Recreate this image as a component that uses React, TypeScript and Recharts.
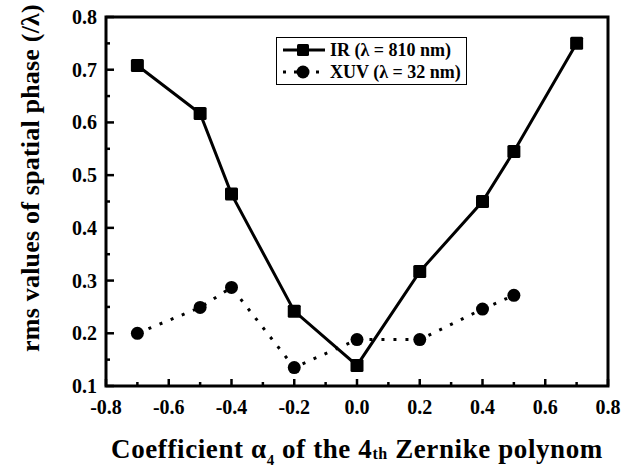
import React from 'react';
import { LineChart, Line, XAxis, YAxis, Legend, Label, ReferenceArea } from 'recharts';

const irX = [-0.7, -0.5, -0.4, -0.2, 0.0, 0.2, 0.4, 0.5, 0.7];
const irY = [0.708, 0.617, 0.464, 0.242, 0.139, 0.317, 0.45, 0.545, 0.75];

const xuvX = [-0.7, -0.5, -0.4, -0.2, 0.0, 0.2, 0.4, 0.5];
const xuvY = [0.2, 0.249, 0.287, 0.135, 0.188, 0.188, 0.246, 0.272];

const xTicks = [-0.8, -0.7, -0.6, -0.5, -0.4, -0.3, -0.2, -0.1, 0, 0.1, 0.2, 0.3, 0.4, 0.5, 0.6, 0.7, 0.8];
const xMajor = [-0.8, -0.6, -0.4, -0.2, 0, 0.2, 0.4, 0.6, 0.8];
const yTicks = [0.1, 0.15, 0.2, 0.25, 0.3, 0.35, 0.4, 0.45, 0.5, 0.55, 0.6, 0.65, 0.7, 0.75, 0.8];
const yMajor = [0.1, 0.2, 0.3, 0.4, 0.5, 0.6, 0.7, 0.8];

const IR_NAME = 'IR (\u03bb = 810 nm)';
const XUV_NAME = 'XUV (\u03bb = 32 nm)';
const Y_TITLE = 'rms values of spatial phase (/\u03bb)';

const FONT = '"Liberation Serif", "Times New Roman", serif';

const irData = irX.map((x, i) => ({ x, y: irY[i] }));
const xuvData = xuvX.map((x, i) => ({ x, y: xuvY[i] }));

const XTick = (props: any) => {
  const { x, y, payload } = props;
  const major = xMajor.includes(payload.value);
  return (
    <g>
      <line x1={x} x2={x} y1={y} y2={y - (major ? 7 : 4)} stroke="#000" strokeWidth={2.5} />
      {major && (
        <text x={x} y={y + 21} textAnchor="middle" dominantBaseline="central"
          fontFamily={FONT} fontWeight="bold" fontSize={20} fill="#000">
          {payload.value.toFixed(1)}
        </text>
      )}
    </g>
  );
};

const YTick = (props: any) => {
  const { x, y, payload } = props;
  const major = yMajor.includes(payload.value);
  return (
    <g>
      <line x1={x} x2={x + (major ? 8 : 4)} y1={y} y2={y} stroke="#000" strokeWidth={2.5} />
      {major && (
        <text x={x - 9} y={y} textAnchor="end" dominantBaseline="central"
          fontFamily={FONT} fontWeight="bold" fontSize={20} fill="#000">
          {payload.value.toFixed(1)}
        </text>
      )}
    </g>
  );
};

const SquareDot = (props: any) => {
  const { cx, cy, index } = props;
  return <rect key={`sq-${index}`} x={cx - 6.5} y={cy - 6.5} width={13} height={13} rx={1.5} fill="#000" />;
};

const CircleDot = (props: any) => {
  const { cx, cy, index } = props;
  return <circle key={`ci-${index}`} cx={cx} cy={cy} r={6.5} fill="#000" />;
};

const renderLegend = () => (
  <div
    style={{
      boxSizing: 'border-box',
      width: 191,
      height: 48,
      border: '1.5px solid #000',
      background: '#fff',
      padding: '1px 0 0 4px',
      fontFamily: FONT,
      fontWeight: 'bold',
      fontSize: 18,
      color: '#000',
    }}
  >
    {[
      { name: IR_NAME, dash: undefined, square: true },
      { name: XUV_NAME, dash: '3 8', square: false },
    ].map((item) => (
      <div key={item.name} style={{ display: 'flex', alignItems: 'center', height: 22, whiteSpace: 'nowrap' }}>
        <svg width={46} height={20} style={{ flex: 'none' }}>
          <line x1={2} x2={44} y1={10} y2={10} stroke="#000" strokeWidth={3} strokeDasharray={item.dash} />
          {item.square ? (
            <rect x={16} y={4} width={12} height={12} rx={1.5} fill="#000" />
          ) : (
            <circle cx={22} cy={10} r={6.5} fill="#000" />
          )}
        </svg>
        <span style={{ marginLeft: 3 }}>{item.name}</span>
      </div>
    ))}
  </div>
);

export default function App() {
  return (
    <div style={{ position: 'absolute', left: 0, top: 0, width: 634, height: 474, background: '#fff' }}>
      <LineChart width={634} height={474} margin={{ top: 17, right: 26, left: 0, bottom: 0 }}>
        <XAxis
          dataKey="x"
          type="number"
          domain={[-0.8, 0.8]}
          ticks={xTicks}
          interval={0}
          allowDataOverflow
          height={88}
          axisLine={false}
          tickLine={false}
          tickSize={0}
          tickMargin={0}
          tick={<XTick />}
        >
          <Label
            content={(p: any) => {
              const vb = p.viewBox;
              return (
                <text x={vb.x + vb.width / 2} y={vb.y + 72} textAnchor="middle"
                  fontFamily={FONT} fontWeight="bold" fontSize={27} letterSpacing={0.6} fill="#000">
                  {'Coefficient \u03b1'}
                  <tspan fontSize={15} dy={7}>4</tspan>
                  <tspan dy={-7}> of the 4</tspan>
                  <tspan fontSize={16} dy={1}>th</tspan>
                  <tspan dy={-1}> Zernike polynom</tspan>
                </text>
              );
            }}
          />
        </XAxis>
        <YAxis
          type="number"
          domain={[0.1, 0.8]}
          ticks={yTicks}
          interval={0}
          allowDataOverflow
          width={106}
          axisLine={false}
          tickLine={false}
          tickSize={0}
          tickMargin={0}
          tick={<YTick />}
        >
          <Label
            content={() => (
              <text x={30} y={178} transform="rotate(-90, 30, 178)" textAnchor="middle" dominantBaseline="central"
                fontFamily={FONT} fontWeight="bold" fontSize={26} letterSpacing={0.2} fill="#000">
                {Y_TITLE}
              </text>
            )}
          />
        </YAxis>
        <ReferenceArea x1={-0.8} x2={0.8} y1={0.1} y2={0.8} fill="none" stroke="#000" strokeWidth={3} ifOverflow="visible" />
        <Legend
          layout="vertical"
          align="center"
          verticalAlign="middle"
          content={renderLegend}
          wrapperStyle={{ left: 276, top: 37, width: 191, height: 48 }}
        />
        <Line
          data={irData}
          dataKey="y"
          name={IR_NAME}
          stroke="#000"
          strokeWidth={3}
          dot={<SquareDot />}
          activeDot={false}
          isAnimationActive={false}
        />
        <Line
          data={xuvData}
          dataKey="y"
          name={XUV_NAME}
          stroke="#000"
          strokeWidth={3}
          strokeDasharray="3 9"
          dot={<CircleDot />}
          activeDot={false}
          isAnimationActive={false}
        />
      </LineChart>
    </div>
  );
}
